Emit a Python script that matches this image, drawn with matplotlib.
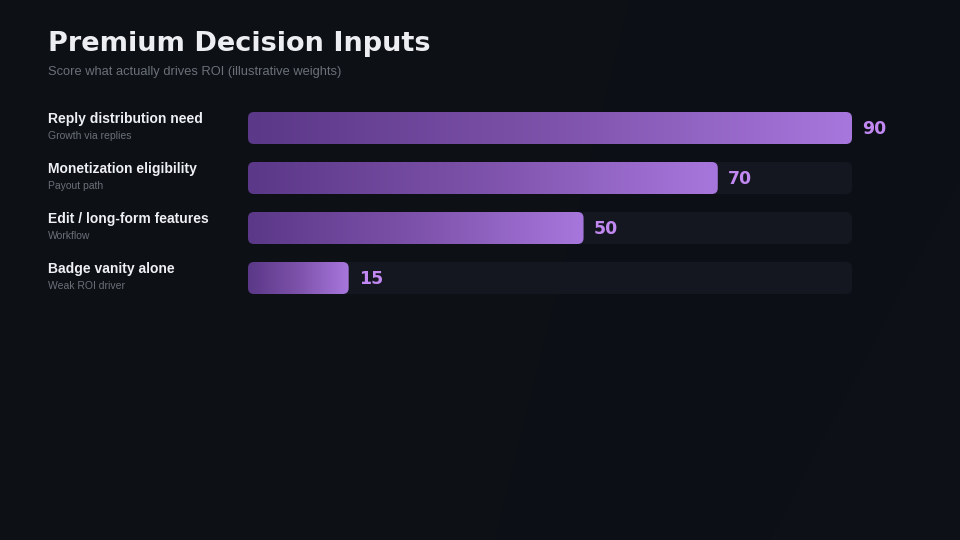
import numpy as np
import matplotlib
matplotlib.use("Agg")
import matplotlib.pyplot as plt
from matplotlib.patches import FancyBboxPatch, Polygon
from matplotlib.colors import LinearSegmentedColormap
from matplotlib import transforms

# data
categories = ["Reply distribution need", "Monetization eligibility",
              "Edit / long-form features", "Badge vanity alone"]
subtitles = ["Growth via replies", "Payout path", "Workflow", "Weak ROI driver"]
scores = [90, 70, 50, 15]

title = "Premium Decision Inputs"
subtitle = "Score what actually drives ROI (illustrative weights)"

W, H = 960, 540
fig = plt.figure(figsize=(9.6, 5.4), dpi=100)
fig.patch.set_facecolor("#0c0f15")

# faint diagonal background bands
bg = fig.add_axes([0, 0, 1, 1], zorder=0)
bg.set_xlim(0, W)
bg.set_ylim(H, 0)
bg.axis("off")
bg.add_patch(Polygon([(0, 0), (630, 0), (495, 540), (0, 540)],
                     color="#111216", alpha=0.4, lw=0))
bg.add_patch(Polygon([(0, 0), (300, 0), (90, 540), (0, 540)],
                     color="#121317", alpha=0.2, lw=0))
bg.add_patch(Polygon([(960, 180), (960, 540), (770, 540)],
                     color="#0f121a", alpha=0.4, lw=0))

# bar area
n = len(scores)
vmax = max(scores)
ax = fig.add_axes([248 / W, 1 - 303 / H, 604 / W, 200 / H], zorder=1)
ax.patch.set_alpha(0)
ax.axis("off")

bar_h = 0.64
px_x = 604 / vmax
px_y = 50.0
rx = 6 / px_x
ry = 6 / px_y
cmap = LinearSegmentedColormap.from_list("purp", ["#5b3888", "#7d52aa", "#a877dd"])
grad = np.linspace(0, 1, 256).reshape(1, -1)

for i, v in enumerate(scores):
    track = FancyBboxPatch((0, i - bar_h / 2), vmax, bar_h,
                           boxstyle=f"round,pad=0,rounding_size={rx}",
                           mutation_aspect=ry / rx, fc="#141720", ec="none", zorder=1)
    ax.add_patch(track)
    bar = FancyBboxPatch((0, i - bar_h / 2), v, bar_h,
                         boxstyle=f"round,pad=0,rounding_size={rx}",
                         mutation_aspect=ry / rx, fc="none", ec="none", zorder=2)
    ax.add_patch(bar)
    im = ax.imshow(grad, extent=(0, v, i + bar_h / 2, i - bar_h / 2), aspect="auto",
                   cmap=cmap, interpolation="bicubic", zorder=2)
    im.set_clip_path(bar)
    ax.annotate(str(v), xy=(v, i), xytext=(10, -1), textcoords="offset pixels",
                ha="left", va="center", color="#c288f2", fontsize=12.5,
                fontweight="bold", family="DejaVu Sans")

ax.set_xlim(0, vmax)
ax.set_ylim(n - 0.5, -0.5)

# row labels
tr = transforms.blended_transform_factory(fig.transFigure, ax.transData)
for i, (c, s) in enumerate(zip(categories, subtitles)):
    fig.text(48 / W, i - 0.17, c, transform=tr, ha="left", va="center",
             color="#eef0f4", fontsize=10, fontweight="bold", family="Liberation Sans")
    fig.text(48 / W, i + 0.16, s, transform=tr, ha="left", va="center",
             color="#6b7079", fontsize=7.5, family="Liberation Sans")

fig.text(48 / W, 1 - 44 / H, title, ha="left", va="center", color="#eceef2",
         fontsize=19.5, fontweight="bold", family="DejaVu Sans")
fig.text(48 / W, 1 - 72 / H, subtitle, ha="left", va="center", color="#6b7079",
         fontsize=9.3, family="Liberation Sans")

fig.savefig("out.png", dpi=100, facecolor=fig.get_facecolor())
